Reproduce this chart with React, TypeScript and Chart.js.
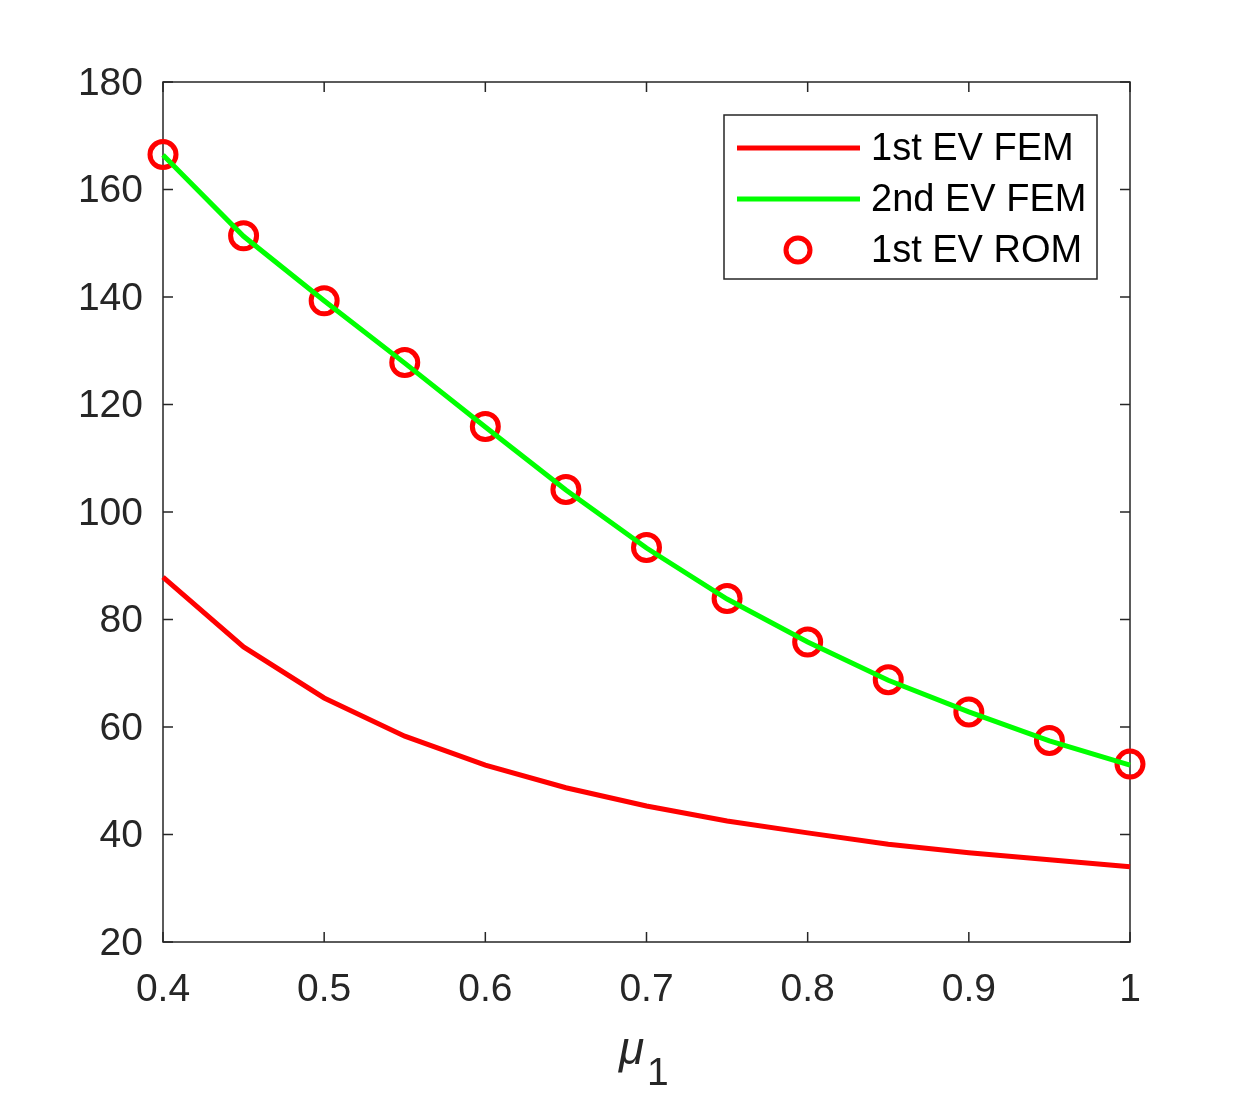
import { useEffect, useRef } from 'react';
import { Chart, registerables } from 'chart.js';

Chart.register(...registerables);

// parameter values (x axis)
const mu = [0.4, 0.45, 0.5, 0.55, 0.6, 0.65, 0.7, 0.75, 0.8, 0.85, 0.9, 0.95, 1.0];
// eigenvalues
const ev1Fem = [87.9, 74.9, 65.4, 58.3, 52.9, 48.7, 45.3, 42.5, 40.3, 38.2, 36.6, 35.3, 34.0];
const ev2Fem = [166.4, 151.3, 139.3, 127.7, 115.8, 104.1, 93.3, 83.8, 75.8, 68.7, 62.8, 57.4, 52.9];
const ev1Rom = [166.5, 151.4, 139.3, 127.8, 115.9, 104.2, 93.4, 83.9, 75.8, 68.8, 62.8, 57.5, 53.1];

const seriesNames = ['1st EV FEM', '2nd EV FEM', '1st EV ROM'];
const xTicks = [0.4, 0.5, 0.6, 0.7, 0.8, 0.9, 1];
const yTicks = [20, 40, 60, 80, 100, 120, 140, 160, 180];

const FONT = '"Liberation Sans", Arial, Helvetica, sans-serif';
const AXIS = '#262626';

const framePlugin = {
    id: 'frame',
    beforeDatasetsDraw(chart: any) {
        const { ctx, chartArea: a, scales } = chart;
        const tl = 10;
        ctx.save();
        ctx.strokeStyle = AXIS;
        ctx.lineWidth = 1.5;
        ctx.strokeRect(a.left, a.top, a.right - a.left, a.bottom - a.top);
        ctx.beginPath();
        xTicks.forEach((v) => {
            const px = scales.x.getPixelForValue(v);
            ctx.moveTo(px, a.bottom);
            ctx.lineTo(px, a.bottom - tl);
            ctx.moveTo(px, a.top);
            ctx.lineTo(px, a.top + tl);
        });
        yTicks.forEach((v) => {
            const py = scales.y.getPixelForValue(v);
            ctx.moveTo(a.left, py);
            ctx.lineTo(a.left + tl, py);
            ctx.moveTo(a.right, py);
            ctx.lineTo(a.right - tl, py);
        });
        ctx.stroke();
        ctx.restore();
    },
    afterDraw(chart: any) {
        const { ctx } = chart;
        ctx.save();

        // legend
        const bx = 724, by = 115, bw = 373, bh = 164;
        ctx.fillStyle = '#ffffff';
        ctx.fillRect(bx, by, bw, bh);
        ctx.strokeStyle = AXIS;
        ctx.lineWidth = 1.5;
        ctx.strokeRect(bx, by, bw, bh);
        const rows = [148, 199, 250];
        const ds = chart.data.datasets;
        ctx.font = `38px ${FONT}`;
        ctx.textBaseline = 'middle';
        ctx.textAlign = 'left';
        rows.forEach((ry, i) => {
            const d = ds[i];
            ctx.lineWidth = 5;
            if (i < 2) {
                ctx.strokeStyle = d.borderColor;
                ctx.beginPath();
                ctx.moveTo(737, ry);
                ctx.lineTo(860, ry);
                ctx.stroke();
            } else {
                ctx.strokeStyle = d.pointBorderColor;
                ctx.beginPath();
                ctx.arc(798, ry, 12, 0, Math.PI * 2);
                ctx.stroke();
            }
            ctx.fillStyle = '#000000';
            ctx.fillText(seriesNames[i], 871, ry + 2);
        });

        // x axis label: mu with subscript 1
        ctx.fillStyle = AXIS;
        ctx.textBaseline = 'alphabetic';
        ctx.font = `italic 46px ${FONT}`;
        ctx.fillText('\u03bc', 619, 1064);
        ctx.font = `39px ${FONT}`;
        ctx.fillText('1', 647, 1085);
        ctx.restore();
    },
};

const App = () => {
    const chartRef = useRef<HTMLCanvasElement | null>(null);

    useEffect(() => {
        document.body.style.margin = '0';
        const ctx = chartRef.current?.getContext('2d');
        if (!ctx) return;

        const myChart = new Chart(ctx, {
            type: 'line',
            data: {
                datasets: [
                    {
                        label: seriesNames[0],
                        data: mu.map((x, i) => ({ x, y: ev1Fem[i] })),
                        borderColor: '#ff0000',
                        borderWidth: 5,
                        pointRadius: 0,
                        tension: 0,
                        clip: false,
                    },
                    {
                        label: seriesNames[1],
                        data: mu.map((x, i) => ({ x, y: ev2Fem[i] })),
                        borderColor: '#00ff00',
                        borderWidth: 5,
                        pointRadius: 0,
                        tension: 0,
                        clip: false,
                    },
                    {
                        label: seriesNames[2],
                        data: mu.map((x, i) => ({ x, y: ev1Rom[i] })),
                        showLine: false,
                        pointRadius: 13,
                        pointBorderWidth: 5,
                        pointBorderColor: '#ff0000',
                        pointBackgroundColor: 'rgba(0,0,0,0)',
                        pointHoverRadius: 13,
                        clip: false,
                    },
                ],
            },
            options: {
                animation: false,
                responsive: false,
                devicePixelRatio: 1,
                events: [],
                layout: { padding: { top: 82, right: 120, left: 0, bottom: 0 } },
                plugins: {
                    legend: { display: false },
                    tooltip: { enabled: false },
                },
                scales: {
                    x: {
                        type: 'linear',
                        min: 0.4,
                        max: 1,
                        grid: { display: false, drawTicks: false },
                        border: { display: false },
                        afterFit: (s: any) => { s.height = 152; },
                        afterBuildTicks: (s: any) => { s.ticks = xTicks.map((v) => ({ value: v })); },
                        ticks: {
                            padding: 25,
                            color: AXIS,
                            font: { family: FONT, size: 39 },
                            maxRotation: 0,
                            callback: (v: any) => String(Number(Number(v).toFixed(2))),
                        },
                    },
                    y: {
                        type: 'linear',
                        min: 20,
                        max: 180,
                        grid: { display: false, drawTicks: false },
                        border: { display: false },
                        afterFit: (s: any) => { s.width = 163; },
                        afterBuildTicks: (s: any) => { s.ticks = yTicks.map((v) => ({ value: v })); },
                        ticks: {
                            padding: 20,
                            labelOffset: 2,
                            color: AXIS,
                            font: { family: FONT, size: 39 },
                        },
                    },
                },
            },
            plugins: [framePlugin],
        } as any);

        return () => {
            myChart.destroy();
        };
    }, []);

    return (
        <div>
            <canvas ref={chartRef} width={1250} height={1094} style={{ display: 'block' }} />
        </div>
    );
};

export default App;
